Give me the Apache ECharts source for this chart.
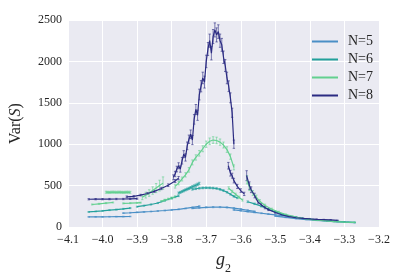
<!DOCTYPE html>
<html><head><meta charset="utf-8">
<script src="https://cdn.jsdelivr.net/npm/echarts@6/dist/echarts.min.js"></script>
<style>html,body{margin:0;padding:0;background:#fff}#c{width:407px;height:280px}</style>
</head><body><div id="c"></div>
<script>
const seriesNames = ['N=5', 'N=6', 'N=7', 'N=8'];
const seriesColors = ['#4a8fc6', '#22a09b', '#62d08f', '#2b2b82'];
const xMin = -4.1, xMax = -3.2, xStep = 0.1;
const yMin = 0, yMax = 2500, yStep = 500;

// N=5 segments: x, value, error
const n5X = [
  [-4.04,-4.02,-4.00,-3.98,-3.96,-3.94,-3.92],
  [-3.94,-3.92,-3.90,-3.88,-3.86,-3.84,-3.82,-3.80,-3.78,-3.76,-3.74,-3.72],
  [-3.74,-3.72,-3.70,-3.68,-3.66,-3.64,-3.62,-3.60,-3.58,-3.56],
  [-3.62,-3.60,-3.58,-3.56,-3.54,-3.52,-3.50,-3.48,-3.46,-3.44],
  [-3.50,-3.47,-3.44,-3.41,-3.38,-3.35,-3.32,-3.29,-3.27]
];
const n5Y = [
  [122,123,123,124,125,126,127],
  [168,172,177,182,187,193,199,206,214,224,236,250],
  [226,232,237,240,240,236,228,216,202,188],
  [206,196,186,176,166,156,146,137,128,120],
  [132,116,102,90,80,71,63,57,53]
];
const n5E = [
  [4,4,4,4,4,4,4],
  [5,5,5,5,5,5,6,6,6,6,7,7],
  [6,6,7,7,7,7,6,6,6,5],
  [5,5,5,5,5,5,4,4,4,4],
  [4,4,3,3,3,3,3,3,3]
];

// N=6
const n6X = [
  [-4.04,-4.02,-4.00,-3.98,-3.96,-3.94,-3.92],
  [-3.90,-3.88,-3.86,-3.84,-3.82,-3.80,-3.78],
  [-3.78,-3.775,-3.77,-3.765,-3.76,-3.755,-3.75,-3.745,-3.74,-3.735,-3.73,-3.725,-3.72],
  [-3.74,-3.73,-3.72,-3.71,-3.70,-3.69,-3.68,-3.67,-3.66,-3.65,-3.64,-3.63,-3.62,-3.61],
  [-3.58,-3.56,-3.54,-3.52,-3.50,-3.48,-3.46,-3.44,-3.42,-3.38,-3.34,-3.30,-3.27]
];
const n6Y = [
  [182,188,195,203,211,219,228],
  [245,258,272,290,320,348,376],
  [410,418,428,438,448,457,466,476,486,495,505,515,525],
  [455,462,468,472,474,473,470,465,455,440,420,395,370,350],
  [305,280,250,215,182,156,135,118,104,87,73,62,56]
];
const n6E = [
  [5,5,5,5,6,6,6],
  [6,6,7,7,8,8,9],
  [12,12,12,13,13,13,13,14,14,14,14,15,15],
  [10,10,10,10,10,10,10,10,10,10,9,9,9,8],
  [10,9,8,7,6,6,5,5,4,4,3,3,3]
];

// N=7
const n7X = [
  [-4.03,-4.01,-3.99,-3.97],
  [-3.99,-3.985,-3.98,-3.975,-3.97,-3.965,-3.96,-3.955,-3.95,-3.945,-3.94,-3.935,-3.93,-3.925,-3.92],
  [-3.94,-3.92,-3.90,-3.89],
  [-3.885,-3.875,-3.865,-3.855,-3.845,-3.835,-3.825],
  [-3.83,-3.82,-3.81,-3.80,-3.79],
  [-3.79,-3.78,-3.77,-3.76,-3.75,-3.74,-3.73,-3.72,-3.71,-3.70,-3.69,-3.68,-3.67,-3.66,-3.65,-3.64,-3.63,-3.62],
  [-3.635,-3.625,-3.615,-3.605,-3.595],
  [-3.582,-3.575,-3.565,-3.555,-3.545,-3.53,-3.51,-3.49,-3.47,-3.45,-3.43,-3.41,-3.39,-3.36,-3.33,-3.30,-3.27]
];
const n7Y = [
  [272,280,288,296],
  [420,419,418,420,421,420,419,420,420,419,418,419,420,420,419],
  [285,288,292,294],
  [360,385,410,440,470,500,530],
  [310,325,338,350,365],
  [490,530,580,630,690,780,840,890,945,1000,1035,1050,1045,1025,990,935,850,720],
  [470,430,395,360,325],
  [570,480,410,360,310,260,215,180,150,128,110,97,87,76,66,59,55]
];
const n7E = [
  [6,6,6,6],
  [12,12,12,12,12,12,12,12,12,12,12,12,12,12,12],
  [6,6,6,6],
  [30,35,40,45,55,65,75],
  [10,10,10,12,12],
  [20,22,24,26,28,30,32,34,36,38,40,40,40,38,36,34,32,30],
  [15,14,13,12,12],
  [50,40,30,25,20,16,12,10,8,7,6,5,5,4,4,3,3]
];

// N=8
const n8X = [
  [-4.04,-4.02,-4.00,-3.98,-3.96,-3.94,-3.92,-3.90],
  [-3.93,-3.91,-3.89,-3.87,-3.85,-3.83,-3.81,-3.79,-3.78],
  [-3.795,-3.79,-3.785,-3.78,-3.775,-3.77,-3.765,-3.76,-3.755,-3.75,-3.745,-3.74,-3.735,-3.73,-3.725,-3.72,-3.715,-3.71,-3.705,-3.70,-3.695,-3.69,-3.685,-3.68,-3.675,-3.67,-3.665,-3.66,-3.655,-3.65,-3.645,-3.64,-3.635,-3.63,-3.625,-3.62],
  [-3.636,-3.63,-3.625,-3.62,-3.61,-3.60,-3.59],
  [-3.583,-3.575,-3.57,-3.56,-3.55,-3.54,-3.53,-3.52,-3.50,-3.48,-3.46,-3.44,-3.42,-3.40,-3.38,-3.36,-3.34,-3.32]
];
const n8Y = [
  [335,336,336,337,338,338,340,342],
  [365,370,385,405,430,465,505,555,590],
  [600,640,700,740,700,800,880,840,980,1060,1120,1050,1300,1420,1350,1600,1700,1800,1750,2000,2150,2250,2100,2300,2380,2320,2360,2250,2200,2050,1950,1800,1700,1560,1380,1000],
  [740,650,620,560,490,440,400],
  [620,500,450,380,300,265,235,210,175,145,125,112,104,98,93,89,85,80]
];
const n8E = [
  [8,8,8,8,8,8,8,8],
  [10,10,10,12,12,14,16,18,20],
  [30,32,34,36,38,40,42,44,46,50,52,55,58,60,62,65,68,70,72,75,78,80,82,85,85,85,82,80,78,75,72,70,65,60,55,50],
  [40,35,30,28,25,22,20],
  [60,45,35,28,22,18,15,12,10,8,7,6,5,5,4,4,4,3]
];

const serif = 'Liberation Serif, DejaVu Serif, serif';
const textColor = '#262626';

function build(name, color, X, Y, E) {
  const out = [];
  X.forEach((xs, i) => {
    const pts = xs.map((x, j) => [x, Y[i][j], E[i][j]]);
    out.push({
      type: 'line', name: name, data: pts.map(p => [p[0], p[1]]),
      showSymbol: false, symbol: 'none', animation: false,
      lineStyle: { color: color, width: 1.2 }, itemStyle: { color: color }, z: 3
    });
    out.push({
      type: 'custom', name: name, data: pts, animation: false, z: 2,
      encode: { x: 0, y: 1 },
      itemStyle: { color: color },
      renderItem: function (params, api) {
        const x = api.value(0), y = api.value(1), e = api.value(2);
        const p1 = api.coord([x, y - e]);
        const p2 = api.coord([x, y + e]);
        const st = { stroke: color, lineWidth: 1, opacity: 0.6 };
        return {
          type: 'group',
          children: [
            { type: 'line', shape: { x1: p1[0], y1: p1[1], x2: p2[0], y2: p2[1] }, style: st },
            { type: 'line', shape: { x1: p1[0] - 1.2, y1: p1[1], x2: p1[0] + 1.2, y2: p1[1] }, style: st },
            { type: 'line', shape: { x1: p2[0] - 1.2, y1: p2[1], x2: p2[0] + 1.2, y2: p2[1] }, style: st }
          ]
        };
      }
    });
  });
  return out;
}

const allSeries = []
  .concat(build(seriesNames[0], seriesColors[0], n5X, n5Y, n5E))
  .concat(build(seriesNames[1], seriesColors[1], n6X, n6Y, n6E))
  .concat(build(seriesNames[2], seriesColors[2], n7X, n7Y, n7E))
  .concat(build(seriesNames[3], seriesColors[3], n8X, n8Y, n8E));

const fmtMinus = v => (v < 0 ? '\u2212' : '') + Math.abs(v).toFixed(1);

const chart = echarts.init(document.getElementById('c'), null, { renderer: 'canvas' });
chart.setOption({
  animation: false,
  backgroundColor: '#ffffff',
  grid: { left: 67, right: 28, top: 20, bottom: 53, show: true, backgroundColor: '#EAEAF2', borderWidth: 0 },
  legend: {
    data: seriesNames.map(n => ({ name: n, icon: 'rect' })),
    orient: 'vertical', left: 307, top: 29,
    itemWidth: 26, itemHeight: 2, itemGap: 3,
    textStyle: { fontFamily: serif, fontSize: 14, color: textColor, lineHeight: 15, padding: [0, 0, 0, 5] }
  },
  xAxis: {
    type: 'value', min: xMin, max: xMax, interval: xStep,
    axisLine: { show: false }, axisTick: { show: false },
    splitLine: { show: true, lineStyle: { color: '#ffffff', width: 1 } },
    axisLabel: { formatter: fmtMinus, fontFamily: serif, fontSize: 12, color: textColor, margin: 7 },
    name: '{g|g}{s|2}', nameLocation: 'middle', nameGap: 22,
    nameTextStyle: {
      rich: {
        g: { fontFamily: serif, fontStyle: 'italic', fontSize: 18, color: textColor, lineHeight: 20 },
        s: { fontFamily: serif, fontSize: 12, color: textColor, lineHeight: 20, verticalAlign: 'bottom', padding: [0, 0, -5, 0] }
      }
    }
  },
  yAxis: {
    type: 'value', min: yMin, max: yMax, interval: yStep,
    axisLine: { show: false }, axisTick: { show: false },
    splitLine: { show: true, lineStyle: { color: '#ffffff', width: 1 } },
    axisLabel: { formatter: v => String(v), fontFamily: serif, fontSize: 12, color: textColor, margin: 6 },
    name: '{a|Var(}{b|S}{a|)}', nameLocation: 'middle', nameGap: 44,
    nameTextStyle: {
      rich: {
        a: { fontFamily: serif, fontSize: 16, color: textColor },
        b: { fontFamily: serif, fontSize: 16, fontStyle: 'italic', color: textColor }
      }
    }
  },
  series: allSeries
});
</script>
</body></html>
